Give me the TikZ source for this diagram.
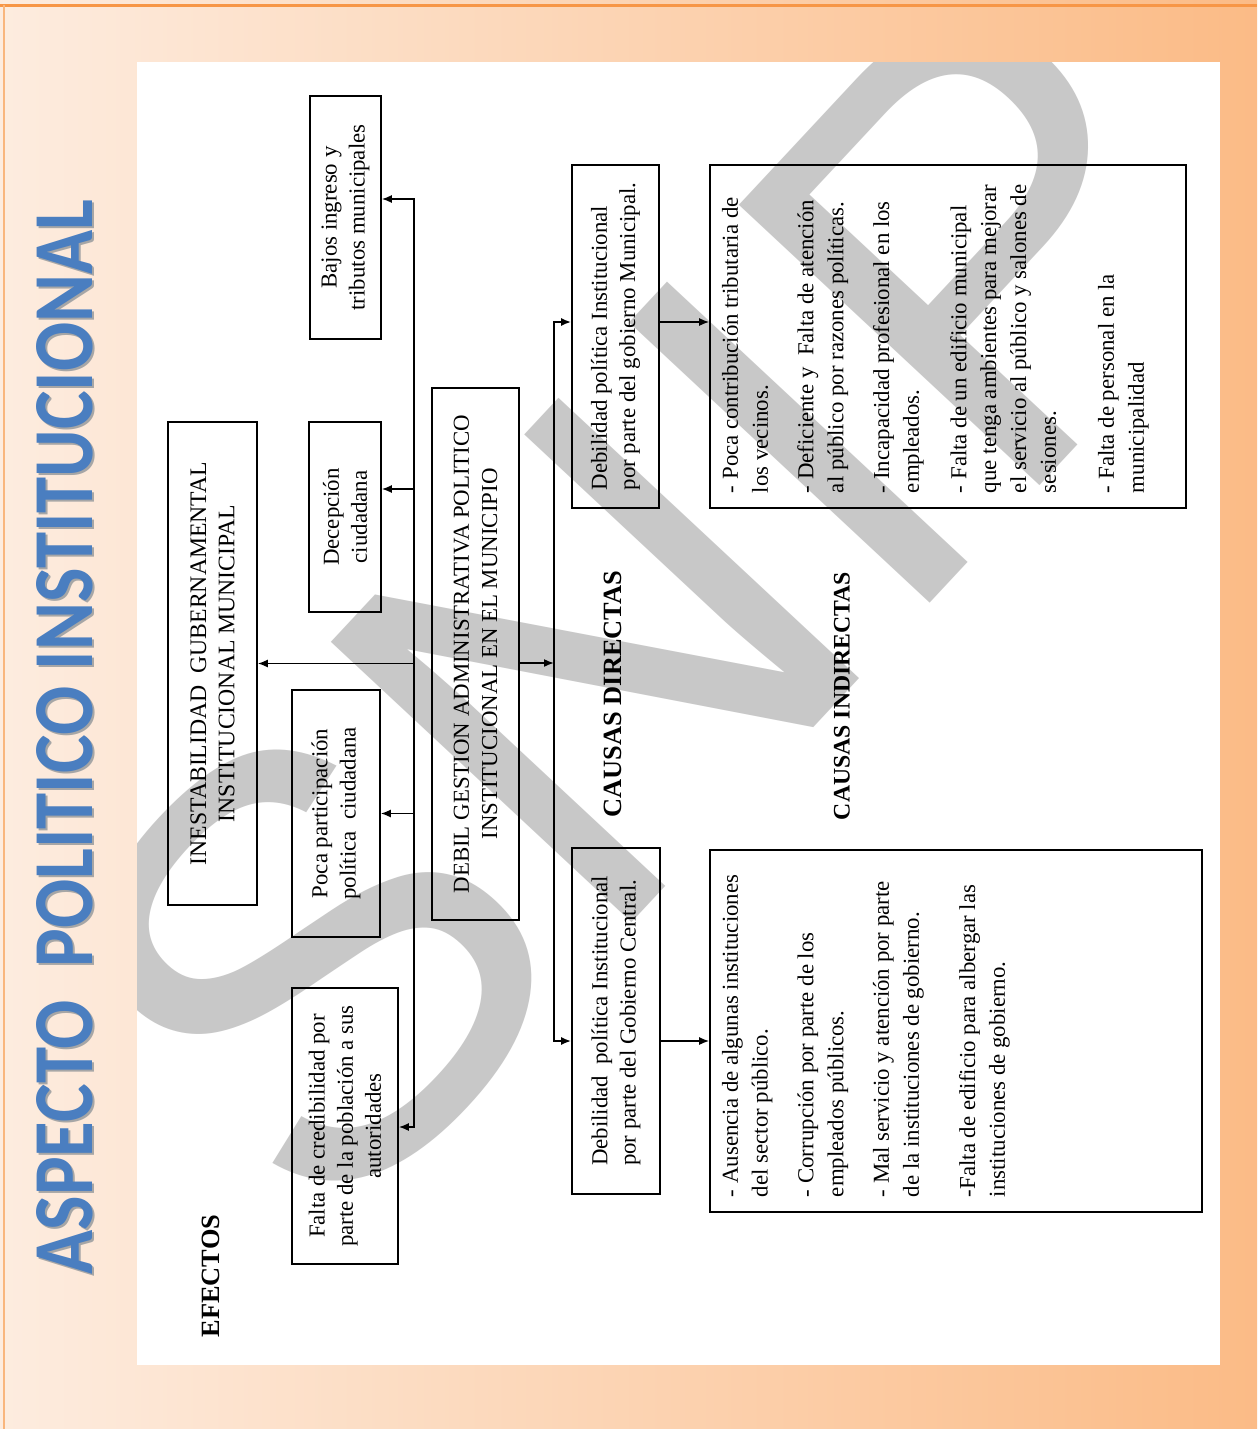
\documentclass[tikz,border=0pt]{standalone}
\usepackage{fontspec}
\setmainfont{Liberation Serif}
\newfontfamily\titlefont{Carlito}
\newfontfamily\markfont{Liberation Sans}
\usepackage{graphicx}
\usetikzlibrary{arrows.meta}
\usetikzlibrary{positioning}
\usepackage{color}
\definecolor{bgleft}{HTML}{FDECDF}
\definecolor{bgright}{HTML}{FBBB86}
\definecolor{frameline}{HTML}{F79646}
\definecolor{titleblue}{HTML}{4A7EC0}
\definecolor{markgray}{HTML}{C8C8C8}

\begin{document}
\begin{tikzpicture}
    [x=0.2mm, y=-0.2mm,
     box/.style={rectangle, draw, line width=0.9pt, rotate=90, align=center, inner sep=0pt,
        font=\fontsize{13pt}{16pt}\selectfont},
     listbox/.style={box, align=left, inner xsep=3mm, inner ysep=0pt, font=\fontsize{13pt}{17pt}\selectfont},
     arr/.style={-{Latex[length=2mm, width=1.6mm]}, line width=0.9pt},
     heading/.style={rotate=90, inner sep=0pt, font=\bfseries\fontsize{15pt}{17pt}\selectfont}]

    \useasboundingbox (0,0) rectangle (1257,1429);

    % frame
    \shade [left color=bgleft, right color=bgright] (0,0) rectangle (1257,1429);
    \draw [frameline, line width=0.6mm] (0,5) -- (1257,5);
    \draw [frameline!70, line width=0.3mm] (4,5) -- (4,1429);
    \fill [white] (137,62) rectangle (1220,1365);

    \node [rotate=90, inner sep=0pt, text=black!35] (titleshade) at (67,739)
        {\resizebox{215mm}{11.2mm}{\titlefont\bfseries ASPECTO\ \ POLITICO INSTITUCIONAL}};
    \node [rotate=90, inner sep=0pt, text=titleblue] (title) at (65,737)
        {\resizebox{215mm}{11.2mm}{\titlefont\bfseries ASPECTO\ \ POLITICO INSTITUCIONAL}};

    % watermark
    \begin{scope}
    \clip (137,62) rectangle (1220,1365);
    \node [rotate=47, inner sep=0pt, text=markgray, font=\markfont\fontsize{340pt}{340pt}\selectfont]
        (mark) at (652,600) {SNIP};
    \end{scope}

    % efectos
    \node [box, minimum width=48.6mm, minimum height=14.2mm] (bajos) at (345.5,217.5) {
    Bajos ingreso y\\tributos municipales
    };
    \node [box, minimum width=38mm, minimum height=14.4mm] (decep) at (345,517) {
    Decepción\\ciudadana
    };
    \node [box, minimum width=96.6mm, minimum height=17.8mm, font=\fontsize{13.5pt}{16pt}\selectfont] (inest) at (212.5,663.5) {
    INESTABILIDAD\ \ GUBERNAMENTAL\\INSTITUCIONAL MUNICIPAL
    };
    \node [box, minimum width=49.4mm, minimum height=17.6mm] (poca) at (336,813.5) {
    Poca participación\\política\ \ ciudadana
    };
    \node [box, minimum width=55.2mm, minimum height=21.2mm] (falta) at (345,1126) {
    Falta de credibilidad por\\parte de la población a sus\\autoridades
    };

    % problema central
    \node [box, minimum width=106.4mm, minimum height=17.4mm] (debil) at (475.5,654) {
    DEBIL GESTION ADMINISTRATIVA POLITICO\\INSTITUCIONAL EN EL MUNICIPIO
    };

    % causas
    \node [box, align=left, minimum width=68.6mm, minimum height=17.4mm] (dmun) at (615.5,336.5) {
    Debilidad política Institucional\\por parte del gobierno Municipal.
    };
    \node [box, align=left, minimum width=69.2mm, minimum height=17.6mm] (dcen) at (616,1021) {
    Debilidad\ \ política Institucional\\por parte del Gobierno Central.
    };
    \node [listbox] (imun) at (948,336.5) {%
    \begin{minipage}[c][95.2mm][t]{62.6mm}\raggedright
    \vspace*{2.4mm}
    - Poca contribución tributaria de\\los vecinos.\\[9pt]
    - Deficiente y\ \ Falta de atención\\al público por razones políticas.\\[9pt]
    - Incapacidad profesional en los\\empleados.\\[10pt]
    - Falta de un edificio municipal\\que tenga ambientes para mejorar\\el servicio al público y salones de\\sesiones.\\[16pt]
    - Falta de personal en la\\municipalidad
    \end{minipage}};
    \node [listbox] (icen) at (956,1031) {%
    \begin{minipage}[c][98.4mm][t]{66.4mm}\raggedright
    \vspace*{2.4mm}
    - Ausencia de algunas instituciones\\del sector público.\\[9pt]
    - Corrupción por parte de los\\empleados públicos.\\[9pt]
    - Mal servicio y atención por parte\\de la instituciones de gobierno.\\[15pt]
    -Falta de edificio para albergar las\\instituciones de gobierno.
    \end{minipage}};

    \node [heading] (efectos) at (211,1276) {EFECTOS};
    \node [heading] (cdir) at (613,694) {CAUSAS DIRECTAS};
    \node [heading, font=\bfseries\fontsize{13.5pt}{15pt}\selectfont] (cind) at (842,696) {CAUSAS INDIRECTAS};

    % connectors
    \coordinate (etop) at (414,199);
    \coordinate (ebot) at (414,1127);
    \coordinate (edec) at (414,489);
    \coordinate (ctop) at (554,322);
    \coordinate (cbot) at (554,1041);
    \coordinate (cin) at (554,663);

    \draw [arr] (ebot) -- (etop) -- (etop -| bajos.south);
    \draw [arr] (etop) -- (ebot) -- (ebot -| falta.south);
    \draw [arr] (edec) -- (edec -| decep.south);
    \draw [arr] (etop |- inest.south) -- (inest.south);
    \draw [arr] (etop |- poca.south) -- (poca.south);

    \draw [arr] (cin -| debil.south) -- (cin);
    \draw [arr, line width=1.1pt] (cbot) -- (ctop) -- (ctop -| dmun.north);
    \draw [arr, line width=1.1pt] (ctop) -- (cbot) -- (cbot -| dcen.north);
    \draw [arr] (ctop -| dmun.south) -- (ctop -| imun.north);
    \draw [arr] (cbot -| dcen.south) -- (cbot -| icen.north);
\end{tikzpicture}
\end{document}
